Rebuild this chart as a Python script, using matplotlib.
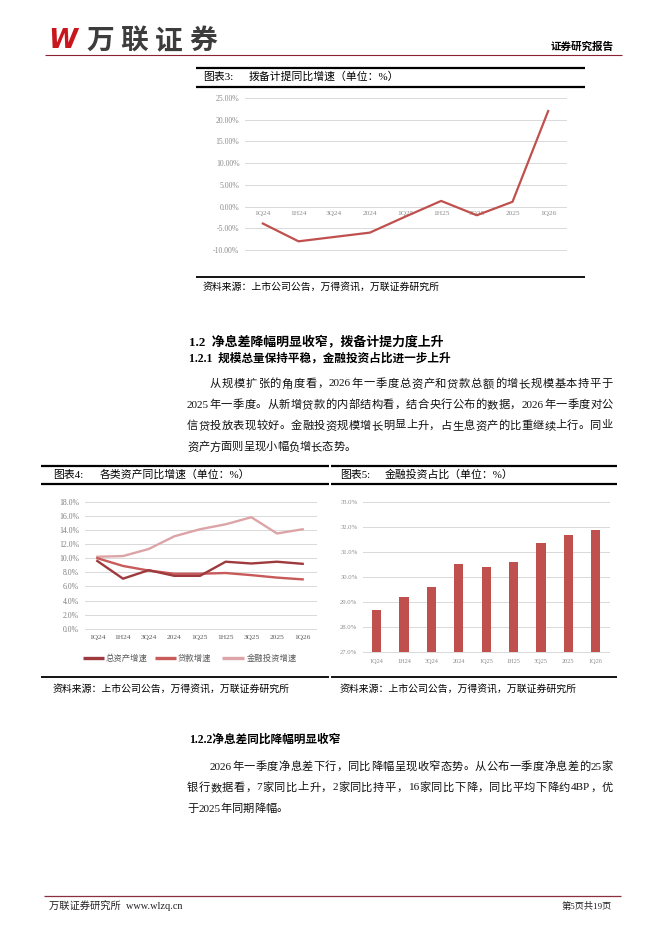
import matplotlib
matplotlib.use("Agg")
import matplotlib.pyplot as plt
from matplotlib.lines import Line2D
import re

# ---------------- data ----------------
cats = ["1Q24", "1H24", "3Q24", "2024", "1Q25", "1H25", "3Q25", "2025", "1Q26"]
provision_yoy = [-3.9, -8.0, -7.0, -6.0, -2.3, 1.3, -2.0, 1.1, 22.0]
ticks3 = [-10, -5, 0, 5, 10, 15, 20, 25]

total_assets = [9.6, 7.1, 8.3, 7.5, 7.5, 9.5, 9.25, 9.5, 9.2]
loans = [10.0, 8.9, 8.25, 7.8, 7.8, 7.9, 7.6, 7.25, 7.0]
fin_invest = [10.2, 10.3, 11.3, 13.1, 14.1, 14.8, 15.8, 13.5, 14.1]
ticks4 = [0, 2, 4, 6, 8, 10, 12, 14, 16, 18]
legend4 = ["总资产增速", "贷款增速", "金融投资增速"]

fin_share = [28.67, 29.17, 29.6, 30.49, 30.4, 30.59, 31.36, 31.67, 31.85]
ticks5 = [27, 28, 29, 30, 31, 32, 33]

title3 = ["图表3:", "拨备计提同比增速（单位：%）"]
title4 = ["图表4:", "各类资产同比增速（单位：%）"]
title5 = ["图表5:", "金融投资占比（单位：%）"]
source = "资料来源：上市公司公告，万得资讯，万联证券研究所"

head1 = "1.2  净息差降幅明显收窄，拨备计提力度上升"
head2 = "1.2.1  规模总量保持平稳，金融投资占比进一步上升"
head3 = "1.2.2净息差同比降幅明显收窄"
para1 = ["从规模扩张的角度看，2026年一季度总资产和贷款总额的增长规模基本持平于",
         "2025年一季度。从新增贷款的内部结构看，结合央行公布的数据，2026年一季度对公",
         "信贷投放表现较好。金融投资规模增长明显上升，占生息资产的比重继续上行。同业",
         "资产方面则呈现小幅负增长态势。"]
para2 = ["2026年一季度净息差下行，同比降幅呈现收窄态势。从公布一季度净息差的25家",
         "银行数据看，7家同比上升，2家同比持平，16家同比下降，同比平均下降约4BP，优",
         "于2025年同期降幅。"]

# ---------------- page ----------------
W, H = 662, 936
fig = plt.figure(figsize=(W / 100, H / 100), dpi=100)
fig.patch.set_facecolor("white")

CJK = ["Liberation Serif", "Noto Sans CJK SC", "DejaVu Sans"]
CJKS = ["Noto Sans CJK SC", "DejaVu Sans"]
GRID = "#D9D9D9"


def fx(x):
    return x / W


def fy(y):
    return 1 - y / H


def T(x, y, s, size=8, ha="left", va="center", family=CJK, **kw):
    return fig.text(fx(x), fy(y), s, fontsize=size, ha=ha, va=va, family=family, **kw)


def hline(x0, x1, y, lw, color="black"):
    fig.add_artist(Line2D([fx(x0), fx(x1)], [fy(y), fy(y)], transform=fig.transFigure,
                          lw=lw, color=color, solid_capstyle="butt"))


def add_ax(left, top, right, bottom):
    return fig.add_axes([fx(left), fy(bottom), (right - left) / W, (bottom - top) / H])


renderer = fig.canvas.get_renderer()


def justify(x0, x1, y, s, size, stretch=True, **kw):
    toks = re.findall(r"[A-Za-z0-9\.%]+|.", s)
    texts = [T(x0, y, t, size=size, **kw) for t in toks]
    widths = [t.get_window_extent(renderer).width for t in texts]
    total = sum(widths)
    gap = (x1 - x0 - total) / (len(toks) - 1) if (stretch and len(toks) > 1) else 0.0
    x = x0
    for t, w in zip(texts, widths):
        t.set_x(fx(x))
        x += w + gap


# ---------------- header ----------------
T(48, 41, "W", size=19, family=["DejaVu Sans"], weight="bold", style="italic", color="#C8161D")
for i, ch in enumerate("万联证券"):
    T(86 + i * 34.5, 41, ch, size=20, family=CJKS, weight="heavy", color="#3C3C3C")
T(614, 47, "证券研究报告", size=7.6, ha="right", family=CJKS, weight="bold")
hline(45, 622, 55, 0.8, "#8B2233")

# ---------------- chart 3 ----------------
hline(196, 585, 67.5, 1.6)
T(203, 77, title3[0], size=7.8)
T(249, 77, title3[1], size=7.8)
hline(196, 585, 86.5, 1.6)
hline(196, 585, 277, 1.3)
T(203, 286.5, source, size=7.1, style="italic", family=CJKS)

ax3 = add_ax(245, 98, 566, 250)
ax3.set_xlim(-0.5, 8.5)
ax3.set_ylim(-10, 25)
for v in ticks3:
    ax3.axhline(v, color=GRID, lw=0.7, zorder=1, clip_on=False)
ax3.set_yticks(ticks3)
ax3.set_yticklabels([f"{v:.2f}%" for v in ticks3], fontsize=5.6, color="#8C8C8C",
                    family="Liberation Serif")
ax3.set_xticks([])
ax3.tick_params(axis="y", length=0, pad=4)
for s in ax3.spines.values():
    s.set_visible(False)
xs = list(range(len(cats)))
for i, c in enumerate(cats):
    ax3.annotate(c, (i, 0), xytext=(0, -5), textcoords="offset points", ha="center",
                 va="center", fontsize=5.3, color="#8C8C8C", family="Liberation Serif", zorder=2)
ax3.plot(xs, provision_yoy, color="#C0504D", lw=1.6, zorder=3, solid_joinstyle="round")

# ---------------- section text ----------------
T(189, 342, head1, size=9.3, weight="bold")
T(189, 359, head2, size=8.4, weight="bold")
ys1 = [384, 405, 426, 447]
for i, line in enumerate(para1):
    x0 = 210 if i == 0 else 187
    justify(x0, 613, ys1[i], line, 8.1, stretch=(i < len(para1) - 1), color="#111111")

# ---------------- chart 4 ----------------
hline(41, 329, 466, 1.6)
T(53, 475, title4[0], size=7.8)
T(100, 475, title4[1], size=7.8)
hline(41, 329, 484, 1.6)
hline(41, 329, 676.7, 1.3)
T(53, 689, source, size=7.1, style="italic", family=CJKS)

ax4 = add_ax(84.5, 501.7, 315.5, 628.8)
ax4.set_xlim(-0.5, 8.5)
ax4.set_ylim(0, 18)
for v in ticks4:
    ax4.axhline(v, color=GRID, lw=0.7, zorder=1, clip_on=False)
ax4.set_yticks(ticks4)
ax4.set_yticklabels([f"{v:.1f}%" for v in ticks4], fontsize=5.6, color="#7F7F7F",
                    family="Liberation Serif")
ax4.set_xticks(xs)
ax4.set_xticklabels(cats, fontsize=5.4, color="#595959", family="Liberation Serif")
ax4.tick_params(axis="both", length=0)
ax4.tick_params(axis="y", pad=4)
ax4.tick_params(axis="x", pad=4.5)
for s in ax4.spines.values():
    s.set_visible(False)
cols4 = ["#9E3A3E", "#C85A5A", "#DCA4A6"]
ax4.plot(xs, fin_invest, color=cols4[2], lw=1.7, zorder=3)
ax4.plot(xs, loans, color=cols4[1], lw=1.7, zorder=4)
ax4.plot(xs, total_assets, color=cols4[0], lw=1.7, zorder=5)
leg_pos = [(83, 104, 106), (155, 176, 178), (222, 244, 247)]
for (a, b, tx), lab, col in zip(leg_pos, legend4, cols4):
    fig.add_artist(Line2D([fx(a), fx(b)], [fy(658), fy(658)], transform=fig.transFigure,
                          lw=2.4, color=col, solid_capstyle="butt"))
    T(tx, 658, lab, size=6.0, family=CJKS, color="#595959")

# ---------------- chart 5 ----------------
hline(331, 617, 466, 1.6)
T(340, 475, title5[0], size=7.8)
T(385, 475, title5[1], size=7.8)
hline(331, 617, 484, 1.6)
hline(331, 617, 676.7, 1.3)
T(340, 689, source, size=7.1, style="italic", family=CJKS)

ax5 = add_ax(363, 501.7, 609.4, 651.7)
ax5.set_xlim(-0.5, 8.5)
ax5.set_ylim(27, 33)
for v in ticks5:
    ax5.axhline(v, color=GRID, lw=0.7, zorder=1, clip_on=False)
ax5.bar(xs, [v - 27 for v in fin_share], bottom=27, width=0.34, color="#C0504D", zorder=3)
ax5.set_yticks(ticks5)
ax5.set_yticklabels([f"{v:.1f}%" for v in ticks5], fontsize=4.8, color="#8C8C8C",
                    family="Liberation Serif")
ax5.set_xticks(xs)
ax5.set_xticklabels(cats, fontsize=4.5, color="#8C8C8C", family="Liberation Serif")
ax5.tick_params(axis="both", length=0)
ax5.tick_params(axis="y", pad=4)
ax5.tick_params(axis="x", pad=5.5)
for s in ax5.spines.values():
    s.set_visible(False)

# ---------------- section 1.2.2 ----------------
T(189, 740, head3, size=8.4, weight="bold")
ys2 = [767, 788, 809]
for i, line in enumerate(para2):
    x0 = 210 if i == 0 else 187
    justify(x0, 613, ys2[i], line, 8.1, stretch=(i < len(para2) - 1), color="#111111")

# ---------------- footer ----------------
hline(44, 621, 896, 0.9, "#8B2E3E")
T(49, 906, "万联证券研究所  www.wlzq.cn", size=7.4, color="#222222")
T(612, 906, "第5页共19页", size=6.6, ha="right", color="#222222")

fig.savefig("out.png", dpi=100, facecolor="white")
